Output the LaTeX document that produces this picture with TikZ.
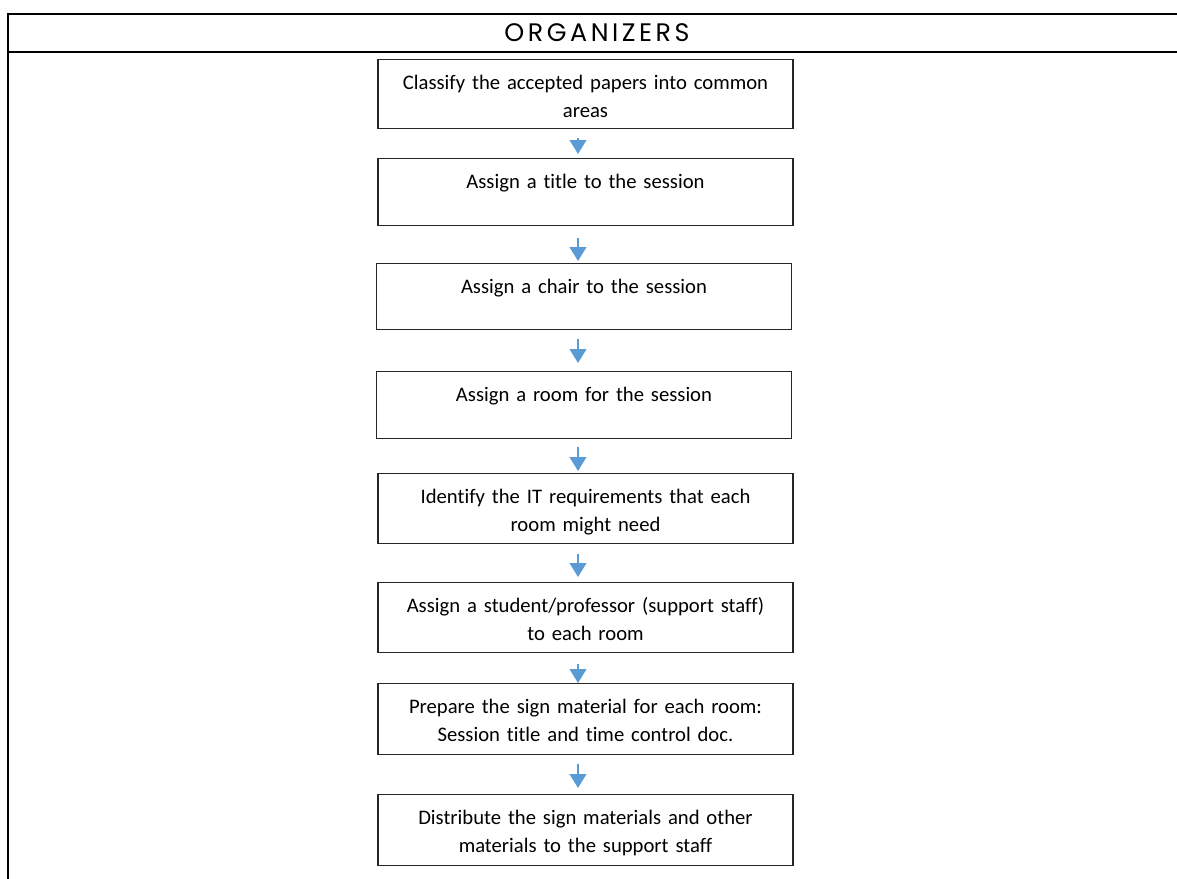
\documentclass[tikz,border=0pt]{standalone}
\usepackage{fontspec}
\setmainfont{Carlito}[Ligatures=NoCommon]
\newfontfamily\headfont{Poppins}[LetterSpace=14]
\usetikzlibrary{arrows.meta,calc}
\definecolor{FlowBlue}{HTML}{5B9BD5}
\definecolor{BoxEdge}{HTML}{262626}

\begin{document}
\begin{tikzpicture}[x=0.75pt, y=-0.75pt,
    stepbox/.style={draw=BoxEdge, line width=0.8pt, anchor=north, inner sep=0pt,
        text width=311.25pt, align=center, text height=22.5pt, text depth=#1,
        font=\fontsize{15.5}{21}\selectfont},
    flowarrow/.style={-{Triangle[width=12.5pt,length=10.5pt]}, FlowBlue, line width=1.5pt},
    frameline/.style={line width=1.5pt}]

    \useasboundingbox (0,0) rectangle (1177,878);

    % ========== FRAME AND HEADER ==========
    \draw[frameline] (1180,14) -- (8,14) -- (8,880);
    \draw[frameline] (8,52) -- (1180,52);
    \node[font=\headfont\fontsize{19}{21}\selectfont, inner sep=0pt] (head) at (597,32.5) {ORGANIZERS};

    % ========== STEPS ==========
    \node[stepbox=29.25pt] (b1) at (585.5,59) {Classify the accepted papers into common\\ areas};
    \node[stepbox=27.75pt] (b2) at (585.5,158) {Assign a title to the session};
    \node[stepbox=27pt]    (b3) at (584,263) {Assign a chair to the session};
    \node[stepbox=27.75pt] (b4) at (584,371) {Assign a room for the session};
    \node[stepbox=30pt]    (b5) at (585.5,473) {Identify the IT requirements that each\\ room might need};
    \node[stepbox=30pt]    (b6) at (585.5,582) {Assign a student/professor (support staff)\\ to each room};
    \node[stepbox=30.75pt] (b7) at (585.5,683) {Prepare the sign material for each room:\\ Session title and time control doc.};
    \node[stepbox=30.75pt] (b8) at (585.5,794) {Distribute the sign materials and other\\ materials to the support staff};

    % Arrow axis
    \coordinate (ax) at (578,0);

    % ========== ARROWS ==========
    \draw[flowarrow, shorten <=6.75pt, shorten >=3pt]  (b1.south -| ax) -- (b2.north -| ax);
    \draw[flowarrow, shorten <=9pt,    shorten >=1.5pt] (b2.south -| ax) -- (b3.north -| ax);
    \draw[flowarrow, shorten <=6.75pt, shorten >=6pt]  (b3.south -| ax) -- (b4.north -| ax);
    \draw[flowarrow, shorten <=6pt,    shorten >=1.5pt] (b4.south -| ax) -- (b5.north -| ax);
    \draw[flowarrow, shorten <=7.5pt,  shorten >=3.75pt] (b5.south -| ax) -- (b6.north -| ax);
    \draw[flowarrow, shorten <=8.25pt, shorten >=0pt]  (b6.south -| ax) -- (b7.north -| ax);
    \draw[flowarrow, shorten <=6.75pt, shorten >=4.5pt]  (b7.south -| ax) -- (b8.north -| ax);

\end{tikzpicture}
\end{document}
